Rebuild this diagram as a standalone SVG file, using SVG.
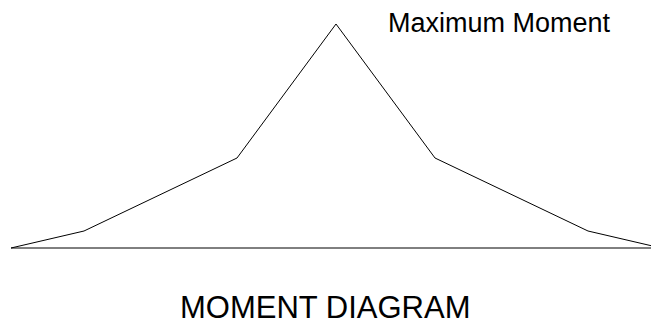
<svg xmlns="http://www.w3.org/2000/svg" width="651" height="327" viewBox="0 0 651 327">
<style>
.ln{fill:none;stroke:#000;stroke-width:1}
.t{font-family:"Liberation Sans",Arial,sans-serif;fill:#000}
</style>
<rect width="651" height="327" fill="#fff"/>
<g id="connectors">
<line class="ln" x1="11" y1="248" x2="651" y2="248"/>
<polyline class="ln" points="11,248 84,231 237,158 336,24 435,158 588,231 661,248"/>
</g>
<g id="label-max"><text class="t" x="388" y="32" font-size="27">Maximum Moment</text></g>
<g id="title"><text class="t" x="180" y="318" font-size="31">MOMENT DIAGRAM</text></g>
</svg>
